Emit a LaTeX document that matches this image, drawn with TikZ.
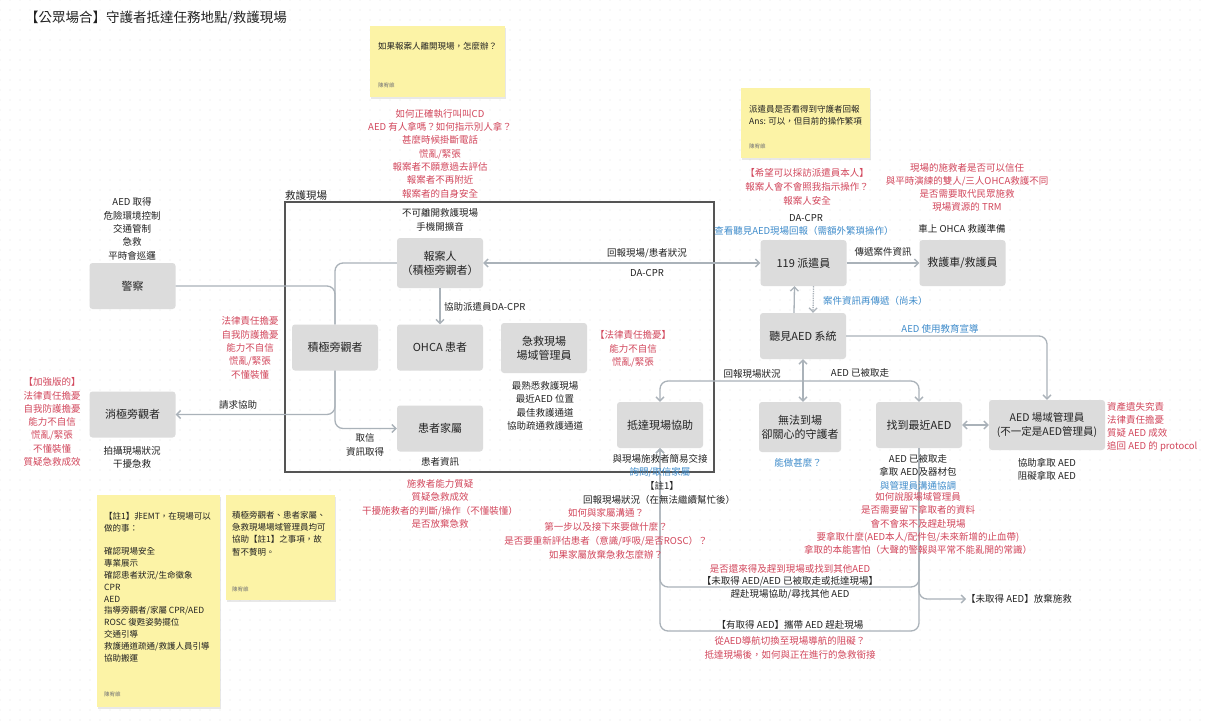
\documentclass[tikz,border=0pt]{standalone}
\usepackage{fontspec}
\setmainfont{Noto Sans CJK TC}
\usetikzlibrary{arrows.meta,shadows,patterns.meta,calc}
\definecolor{nodegray}{HTML}{DCDCDC}
\definecolor{linegray}{HTML}{AAB2B9}
\definecolor{redtxt}{HTML}{D2475C}
\definecolor{bluetxt}{HTML}{3F8CCB}
\definecolor{txt}{HTML}{222222}
\definecolor{stickyc}{HTML}{FCF3A6}
\definecolor{framec}{HTML}{555555}
\definecolor{dotc}{HTML}{E2E2E2}
\definecolor{authc}{HTML}{777777}
\tikzset{
  box/.style={fill=nodegray, rounded corners=3pt, minimum width=86pt, minimum height=46pt, align=center, font=\fontsize{11}{14}\selectfont, text=txt, inner sep=2pt},
  ann/.style={align=center, font=\fontsize{9.5}{13.3}\selectfont, text=txt, inner sep=0pt},
  redann/.style={ann, text=redtxt},
  blueann/.style={ann, text=bluetxt},
  conn/.style={draw=linegray, line width=1.3pt, rounded corners=8pt},
  arr/.style={-{Straight Barb[length=4pt,width=8pt]}},
  arrtwo/.style={{Straight Barb[length=4pt,width=8pt]}-{Straight Barb[length=4pt,width=8pt]}},
  sticky/.style={fill=stickyc, drop shadow={shadow xshift=0.5pt, shadow yshift=-2pt, opacity=0.18}, inner sep=0pt},
  stxt/.style={align=left, font=\fontsize{8.5}{12}\selectfont, text=txt, inner sep=0pt, anchor=west},
  auth/.style={font=\fontsize{5.5}{6}\selectfont, text=authc, inner sep=0pt, anchor=west}
}
\begin{document}
\begin{tikzpicture}[x=1pt,y=-1pt]
\useasboundingbox (0,0) rectangle (1209,720);
\fill[white] (0,0) rectangle (1209,720);
\fill[pattern={Dots[distance=10pt,radius=0.55pt]}, pattern color=dotc] (0,0) rectangle (1209,720);

% title
\node[anchor=west, inner sep=0pt, font=\fontsize{13.5}{15}\selectfont, text=txt] (title) at (25,18) {【公眾場合】守護者抵達任務地點/救護現場};

% sticky notes
\node[sticky, minimum width=135pt, minimum height=71pt] (s1) at (437.5,61.5) {};
\node[stxt] (s1t) at (378,46) {如果報案人離開現場，怎麼辦？};
\node[auth] (s1a) at (378,85) {陳宥維};
\node[sticky, minimum width=129pt, minimum height=70pt] (s2) at (805.5,123) {};
\node[stxt] (s2t) at (749,115.5) {派遣員是否看得到守護者回報\\Ans: 可以，但目前的操作繁項};
\node[auth] (s2a) at (749,146) {陳宥維};
\node[sticky, minimum width=123pt, minimum height=212pt] (s3) at (158.5,601) {};
\node[stxt, font=\fontsize{8.5}{11.83}\selectfont] (s3t) at (104,587) {【註1】非EMT，在現場可以\\做的事：\\[11.83pt]確認現場安全\\專業展示\\確認患者狀況/生命徵象\\CPR\\AED\\指導旁觀者/家屬 CPR/AED\\ROSC 復甦姿勢擺位\\交通引導\\救護通道疏通/救護人員引導\\協助搬運};
\node[auth] (s3a) at (104,694) {陳宥維};
\node[sticky, minimum width=109pt, minimum height=105pt] (s4) at (280.5,547.5) {};
\node[stxt, font=\fontsize{8.5}{12.4}\selectfont] (s4t) at (232,533.5) {積極旁觀者、患者家屬、\\急救現場場域管理員均可\\協助【註1】之事項，故\\暫不贅明。};
\node[auth] (s4a) at (232,589) {陳宥維};

% scene frame
\node[draw=framec, line width=1.2pt, minimum width=429pt, minimum height=270pt, inner sep=0pt] (frame) at (499.5,337) {};
\node[anchor=south west, inner sep=0pt, font=\fontsize{10.5}{12}\selectfont, text=txt] (framelbl) at (285,200.5) {救護現場};

% main nodes
\node[box] (police) at (132.5,286) {警察};
\node[box] (passive) at (132.5,414.5) {消極旁觀者};
\node[box] (active) at (335,347.5) {積極旁觀者};
\node[box, minimum height=50pt] (reporter) at (440,263) {報案人\\（積極旁觀者）};
\node[box] (ohca) at (440,347.5) {OHCA 患者};
\node[box, minimum height=50pt] (sitemgr) at (544,348) {急救現場\\場域管理員};
\node[box] (family) at (440,428.5) {患者家屬};
\node[box] (arrive) at (660,425) {抵達現場協助};
\node[box] (dispatcher) at (803.5,263) {119 派遣員};
\node[box] (ambulance) at (962.5,263) {救護車/救護員};
\node[box] (aedsys) at (803,336) {聽見AED 系統};
\node[box, minimum width=82pt, minimum height=50pt] (cannot) at (800,427) {無法到場\\卻關心的守護者};
\node[box] (find) at (919,425) {找到最近AED};
\node[box, minimum width=116pt, minimum height=50pt, font=\fontsize{10.5}{14}\selectfont] (aedmgr) at (1047,425) {AED 場域管理員\\(不一定是AED管理員)};
\node[ann, anchor=west] (giveup) at (966,599) {【未取得 AED】放棄施救};

% connectors
\begin{scope}[conn]
\draw (police.east) -| (active.north);
\draw (active.north) |- (reporter.west);
\draw[arr] (active.south) |- (passive.east);
\draw[arr] (active.south) |- (family.west);
\draw[arr] (reporter.south) -- (ohca.north);
\draw[arrtwo] (dispatcher.west) -- (reporter.east);
\draw[arr] (dispatcher.east) -- (ambulance.west);
\draw[arr] ([xshift=-9pt]aedsys.north) -- ([xshift=-9pt]dispatcher.south);
\draw[arr, densely dotted] ([xshift=10pt]dispatcher.south) -- ([xshift=10pt]aedsys.north);
\draw[arr] (aedsys.east) -| (aedmgr.north);
\coordinate (bj) at (803,381);
\draw[arrtwo] (aedsys.south) -- (aedsys.south |- cannot.north);
\draw[arr] (bj) -| (arrive.north);
\draw[arr] (bj) -| (find.north);
\draw[arrtwo] (find.east) -- (aedmgr.west);
\coordinate (loopA) at (790,587);
\coordinate (loopB) at (790,631);
\draw[arr] (find.south) |- (loopA) -| (arrive.south);
\draw[arr] (find.south) |- (loopB) -| (arrive.south);
\draw[arr] (find.south) |- (giveup.west);
\end{scope}

% annotations: top centre
\node[redann] (r1) at (440,153.5) {如何正確執行叫叫CD\\AED 有人拿嗎？如何指示別人拿？\\甚麼時候掛斷電話\\慌亂/緊張\\報案者不願意過去評估\\報案者不再附近\\報案者的自身安全};
\node[ann] (reporternote) at (440,220) {不可離開救護現場\\手機開擴音};
\node[ann, anchor=west] (dacprlbl) at (444,307) {協助派遣員DA-CPR};
\node[ann] (trust) at (365,445) {取信\\資訊取得};
\node[ann] (patinfo) at (440,462) {患者資訊};
\node[ann] (mgrlist) at (545,406) {最熟悉救護現場\\最近AED 位置\\最佳救護通道\\協助疏通救護通道};
\node[redann] (mgrred) at (633,349) {【法律責任擔憂】\\能力不自信\\慌亂/緊張};
\node[ann] (reportlbl) at (647,253) {回報現場/患者狀況};
\node[ann] (dacpr2) at (647,273) {DA-CPR};

% left side
\node[ann] (policenote) at (132,229) {AED 取得\\危險環境控制\\交通管制\\急救\\平時會巡邏};
\node[redann] (activered) at (250,348) {法律責任擔憂\\自我防護擔憂\\能力不自信\\慌亂/緊張\\不懂裝懂};
\node[redann] (passivered) at (52,422) {【加強版的】\\法律責任擔憂\\自我防護擔憂\\能力不自信\\慌亂/緊張\\不懂裝懂\\質疑急救成效};
\node[ann] (passivenote) at (132,457.5) {拍攝現場狀況\\干擾急救};
\node[ann] (helplbl) at (238,405) {請求協助};

% dispatcher area
\node[redann, font=\fontsize{9.5}{14}\selectfont] (dispred) at (807,187) {【希望可以採訪派遣員本人】\\報案人會不會照我指示操作？\\報案人安全};
\node[ann] (dacpr3) at (806,218) {DA-CPR};
\node[blueann] (dispblue) at (804,231) {查看聽見AED現場回報（需額外繁瑣操作）};
\node[redann, font=\fontsize{9.5}{13}\selectfont] (ambred) at (967,187.5) {現場的施救者是否可以信任\\與平時演練的雙人/三人OHCA救護不同\\是否需要取代民眾施救\\現場資源的 TRM};
\node[ann] (ambnote) at (962,229) {車上 OHCA 救護準備};
\node[ann] (passlbl) at (883,252) {傳遞案件資訊};
\node[blueann, anchor=west] (relaylbl) at (823,301) {案件資訊再傳遞（尚未）};
\node[blueann] (edulbl) at (940,329) {AED 使用教育宣導};
\node[ann] (backlbl) at (752,374) {回報現場狀況};
\node[ann] (takenlbl) at (860,373) {AED 已被取走};
\node[blueann] (whatlbl) at (798,463) {能做甚麼？};

% right
\node[redann, align=left, anchor=west] (mgrred2) at (1107,427) {資產遺失究責\\法律責任擔憂\\質疑 AED 成效\\追回 AED 的 protocol};
\node[ann] (mgrnote) at (1047,469.5) {協助拿取 AED\\阻礙拿取 AED};

% below find
\node[ann] (find1) at (918,459) {AED 已被取走};
\node[ann] (find2) at (918,472) {拿取 AED及器材包};
\node[blueann] (find3) at (918,486) {與管理員溝通協調};
\node[redann, font=\fontsize{9.5}{13.2}\selectfont] (findred) at (918,523.5) {如何說服場域管理員\\是否需要留下拿取者的資料\\會不會來不及趕赴現場\\要拿取什麼(AED本人/配件包/未來新增的止血帶)\\拿取的本能害怕（大聲的警報與平常不能亂開的常識）};

% below arrive
\node[ann] (arr1) at (660,459) {與現場施救者簡易交接};
\node[blueann] (arr2) at (660,472) {詢問/取信家屬};
\node[ann] (arr3) at (662,486) {【註1】};
\node[ann] (arr4) at (659,500) {回報現場狀況（在無法繼續幫忙後）};
\node[redann, font=\fontsize{9.5}{14}\selectfont] (arrred) at (606,534) {如何與家屬溝通？\\第一步以及接下來要做什麼？\\是否要重新評估患者（意識/呼吸/是否ROSC）？\\如果家屬放棄急救怎麼辦？};
\node[redann] (famred) at (440,504) {施救者能力質疑\\質疑急救成效\\干擾施救者的判斷/操作（不懂裝懂）\\是否放棄急救};

% loop labels
\node[redann] (loop1) at (790,569) {是否還來得及趕到現場或找到其他AED};
\node[ann] (loop2) at (790,581) {【未取得 AED/AED 已被取走或抵達現場】};
\node[ann] (loop3) at (790,594) {趕赴現場協助/尋找其他 AED};
\node[ann] (loop4) at (790,625) {【有取得 AED】攜帶 AED 趕赴現場};
\node[redann] (loop5) at (790,648) {從AED導航切換至現場導航的阻礙？\\抵達現場後，如何與正在進行的急救銜接};
\end{tikzpicture}
\end{document}
